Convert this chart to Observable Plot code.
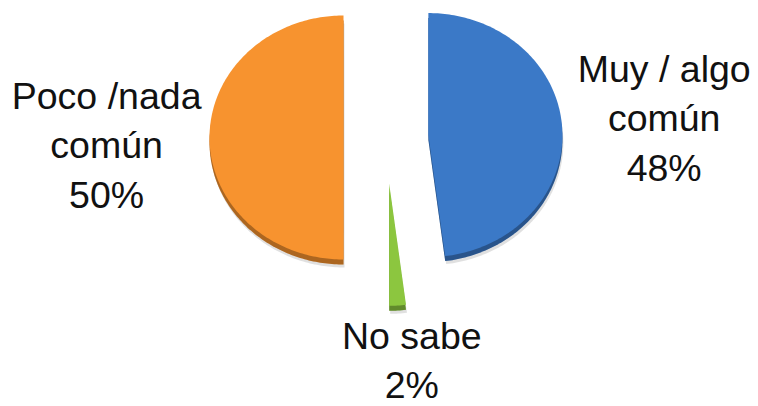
<!DOCTYPE html>
<html><head><meta charset="utf-8">
<script src="https://cdn.jsdelivr.net/npm/d3@7"></script>
<script src="https://cdn.jsdelivr.net/npm/@observablehq/plot@0.6"></script>
<style>body{margin:0;background:#fff;overflow:hidden}</style>
</head><body><div id="chart"></div>
<script>
// ---- data ----
const categories = ["Muy / algo común", "No sabe", "Poco /nada común"];
const labelLines = ["Muy / algo\ncomún", "No sabe", "Poco /nada\ncomún"];
const values = [48, 2, 50];
// ---- styles / layout ----
const colors = ["#3b79c7", "#8cc63f", "#f7932f"];
const explode = [0.317, 0.38, 0.317];
const labelRadius = [2.08, 1.87, 2.08];
const labelNudgeX = [0, 0.075, -0.005];
const labelNudgeY = [0.05, 0.06, -0.04];

const pie = d3.pie().sort(null).value((d, i) => values[i]);
const arcs = pie(categories);
const pts = [];
const labelData = [];
arcs.forEach((a, i) => {
  const mid = (a.startAngle + a.endAngle) / 2;
  const ox = explode[i] * Math.sin(mid), oy = explode[i] * Math.cos(mid);
  pts.push({key: categories[i], x: ox, y: oy});
  const n = Math.max(2, Math.ceil((a.endAngle - a.startAngle) / (Math.PI / 180)));
  for (let k = 0; k <= n; k++) {
    const t = a.startAngle + (a.endAngle - a.startAngle) * k / n;
    pts.push({key: categories[i], x: ox + Math.sin(t), y: oy + Math.cos(t)});
  }
  labelData.push({
    key: categories[i],
    text: `${labelLines[i]}\n${values[i]}%`,
    x: labelRadius[i] * Math.sin(mid) + labelNudgeX[i],
    y: labelRadius[i] * Math.cos(mid) + labelNudgeY[i]
  });
});

const cx = 385.5, cy = 137, rx = 134, ry = 122;
const shape = {x: "x", y: "y", z: "key", stroke: "none", curve: "linear-closed"};
const chart = Plot.plot({
  width: 758, height: 406, margin: 0,
  x: {domain: [-1, 1], range: [cx - rx, cx + rx], axis: null},
  y: {domain: [-1, 1], range: [cy + ry, cy - ry], axis: null},
  color: {domain: categories, range: colors},
  style: {background: "#fff", overflow: "visible"},
  marks: [
    Plot.line(pts, {...shape, fill: "#000", fillOpacity: 0.12, dy: 8, dx: 1}),
    Plot.line(pts, {...shape, fill: "key", dy: 5}),
    Plot.line(pts, {...shape, fill: "#000", fillOpacity: 0.3, dy: 5}),
    Plot.line(pts, {...shape, fill: "key"}),
    Plot.text(labelData, {x: "x", y: "y", text: "text", fontSize: 37.5, lineHeight: 1.32,
      fontFamily: "'Liberation Sans', Arial, sans-serif", fill: "#111", textAnchor: "middle"})
  ]
});
document.getElementById("chart").append(chart);
</script>
</body></html>
